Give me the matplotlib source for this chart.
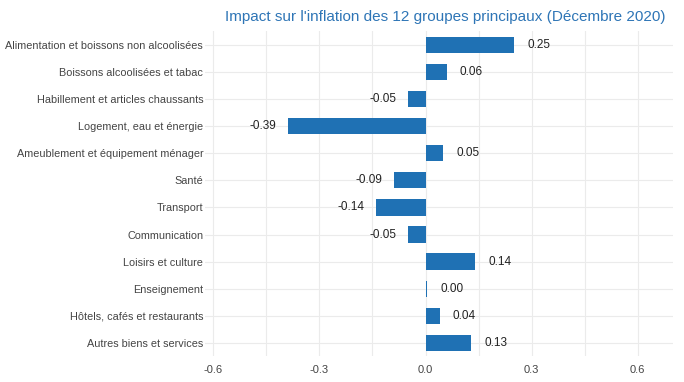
import matplotlib

matplotlib.use("Agg")
import matplotlib.pyplot as plt
import numpy as np

categories = [
    "Alimentation et boissons non alcoolisées",
    "Boissons alcoolisées et tabac",
    "Habillement et articles chaussants",
    "Logement, eau et énergie",
    "Ameublement et équipement ménager",
    "Santé",
    "Transport",
    "Communication",
    "Loisirs et culture",
    "Enseignement",
    "Hôtels, cafés et restaurants",
    "Autres biens et services",
]
impact = [0.25, 0.06, -0.05, -0.39, 0.05, -0.09, -0.14, -0.05, 0.14, 0.004, 0.04, 0.13]
x_ticks = [-0.6, -0.3, 0.0, 0.3, 0.6]

plt.rcParams["font.family"] = ["Liberation Sans", "DejaVu Sans"]

fig = plt.figure(figsize=(6.84, 3.82), dpi=100)
ax = fig.add_axes([0.299, 0.067, 0.685, 0.851])

y = np.arange(len(categories))
ax.barh(y, impact, height=0.6, color="#1f71b4", zorder=3)

for yi, v in zip(y, impact):
    off = 0.07 if v >= 0 else -0.07
    ax.text(v + off, yi, f"{v:.2f}", ha="center", va="center", fontsize=8.5, color="#222222")

ax.set_yticks(y)
ax.set_yticklabels(categories)
ax.set_ylim(len(categories) - 0.5, -0.5)
ax.set_xlim(-0.625, 0.7)
ax.set_xticks(x_ticks)
ax.set_xticklabels([f"{t:.1f}" for t in x_ticks])
ax.set_xticks([-0.45, -0.15, 0.15, 0.45], minor=True)

ax.grid(True, which="both", color="#ebebeb", linewidth=0.8, zorder=0)
for s in ax.spines.values():
    s.set_visible(False)
ax.tick_params(axis="both", which="both", length=0, labelsize=8, labelcolor="#444444")
ax.tick_params(axis="y", pad=1, labelsize=7.8)
ax.tick_params(axis="x", pad=6)

fig.text(0.651, 0.955, "Impact sur l'inflation des 12 groupes principaux (Décembre 2020)",
         ha="center", va="center", fontsize=11, color="#2e75b6")

fig.savefig("out.png", dpi=100)
